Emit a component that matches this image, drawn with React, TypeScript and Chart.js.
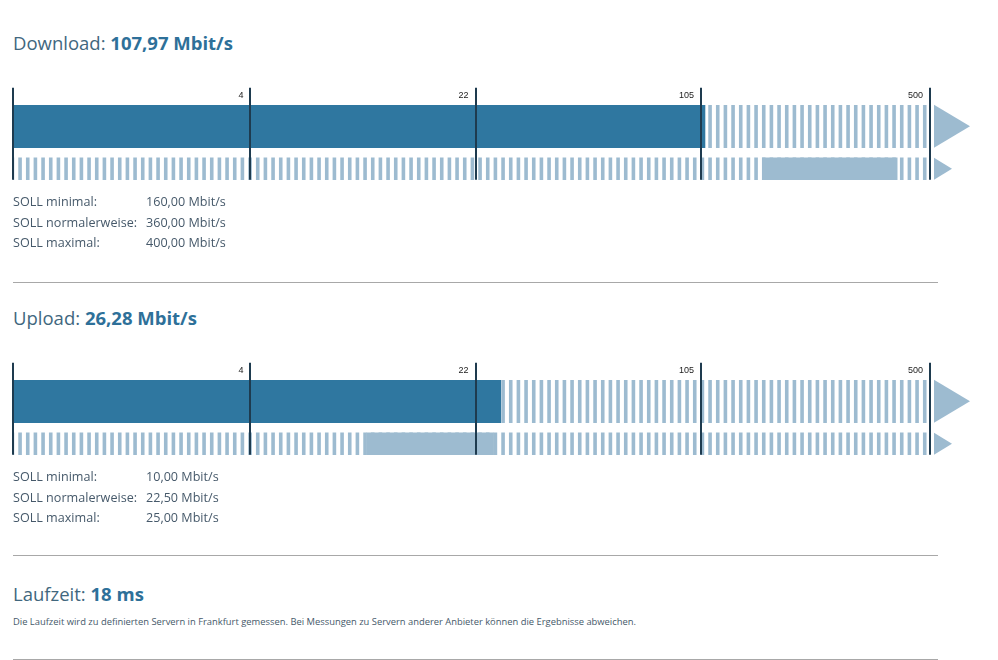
import React, { useEffect, useRef } from 'react';
import { Chart, registerables, LinearScale } from 'chart.js';

Chart.register(...registerables);

// ---------- data ----------
const SCALE_MAX = 500;
const TICK_VALUES = [4, 22, 105, 500];
const TICK_LABELS = ['4', '22', '105', '500'];
const ROWS = ['Messung', 'SOLL'];
const SOLL_LABELS = ['SOLL minimal:', 'SOLL normalerweise:', 'SOLL maximal:'];

const DOWNLOAD_MEASURED = 107.97;
const DOWNLOAD_SOLL = [160, 360, 400]; // minimal, normalerweise, maximal
const UPLOAD_MEASURED = 26.28;
const UPLOAD_SOLL = [10, 22.5, 25];
const LATENCY_MS = 18;
const LATENCY_NOTE =
  'Die Laufzeit wird zu definierten Servern in Frankfurt gemessen. Bei Messungen zu Servern anderer Anbieter können die Ergebnisse abweichen.';

// ---------- styles ----------
const DARK = '#2f77a0';
const LIGHT = '#9dbbd0';
const TICK_LINE = '#1e3b4f';
const FONT = "'Open Sans', sans-serif";

const fmt = (v: number) => v.toFixed(2).replace('.', ',');

// log(1+x) scale, as used by the gauge
class Log1pScale extends LinearScale {
  static id = 'log1p';
  static defaults = {};
  determineDataLimits() {
    this.min = 0;
    this.max = (this.options as any).max ?? SCALE_MAX;
  }
  buildTicks() {
    return [0, ...TICK_VALUES].map((value) => ({ value }));
  }
  getPixelForValue(value: any) {
    if (value === null || value === undefined || isNaN(value)) return NaN;
    const d = Math.log1p(Math.max(0, value)) / Math.log1p(this.max);
    return this.getPixelForDecimal(d);
  }
  getValueForPixel(pixel: number) {
    return Math.expm1(this.getDecimalForPixel(pixel) * Math.log1p(this.max));
  }
}
Chart.register(Log1pScale as any);

function makeStripePattern(color: string) {
  const c = document.createElement('canvas');
  c.width = 23;
  c.height = 4;
  const ctx = c.getContext('2d')!;
  ctx.fillStyle = color;
  const period = 23 / 3;
  for (let k = 0; k < 3; k++) ctx.fillRect(2.6 + k * period, 0, 3.6, 4);
  return ctx.createPattern(c, 'repeat');
}

const gaugePlugin = {
  id: 'gaugeOverlay',
  afterDatasetsDraw(chart: any) {
    const { ctx, chartArea } = chart;
    const x = chart.scales.x;
    const top = chart.getDatasetMeta(0).data[0];
    const bot = chart.getDatasetMeta(2).data[1];
    const t1 = top.y - top.height / 2;
    const b1 = top.y + top.height / 2;
    const t2 = bot.y - bot.height / 2;
    const b2 = bot.y + bot.height / 2;
    ctx.save();
    // tick lines
    ctx.fillStyle = TICK_LINE;
    const lineTop = t1 - 17;
    [0, ...TICK_VALUES].forEach((v) => {
      const p = x.getPixelForValue(v);
      ctx.fillRect(Math.round(p) - 1, lineTop, 2, b2 - lineTop);
    });
    // tick labels
    ctx.fillStyle = '#222';
    ctx.font = "9px 'Liberation Sans', Arial, sans-serif";
    ctx.textAlign = 'right';
    ctx.textBaseline = 'alphabetic';
    TICK_VALUES.forEach((v, i) => {
      const p = x.getPixelForValue(v);
      ctx.fillText(TICK_LABELS[i], p - 7, t1 - 7);
    });
    // arrows
    ctx.fillStyle = LIGHT;
    const r = chartArea.right;
    ctx.beginPath();
    ctx.moveTo(r + 4, t1);
    ctx.lineTo(r + 40, (t1 + b1) / 2);
    ctx.lineTo(r + 4, b1);
    ctx.closePath();
    ctx.fill();
    ctx.beginPath();
    ctx.moveTo(r + 4, t2);
    ctx.lineTo(r + 22, (t2 + b2) / 2);
    ctx.lineTo(r + 4, b2);
    ctx.closePath();
    ctx.fill();
    ctx.restore();
  },
};

function Gauge({ measured, soll, top }: { measured: number; soll: number[]; top: number }) {
  const ref = useRef<HTMLCanvasElement>(null);
  useEffect(() => {
    const stripes = makeStripePattern(LIGHT);
    const chart = new Chart(ref.current!, {
      type: 'bar',
      data: {
        labels: ROWS,
        datasets: [
          { data: [SCALE_MAX, null], backgroundColor: stripes as any, barThickness: 43, order: 2 },
          { data: [measured, null], backgroundColor: DARK, barThickness: 43, order: 1 },
          { data: [null, SCALE_MAX], backgroundColor: stripes as any, barThickness: 22, order: 2 },
          { data: [null, [soll[0], soll[2]]] as any, backgroundColor: LIGHT, barThickness: 22, order: 1 },
        ],
      },
      options: {
        indexAxis: 'y',
        responsive: false,
        animation: false,
        layout: { padding: { left: 5, right: 58, top: 27, bottom: 8 } },
        datasets: { bar: { grouped: false, borderWidth: 0 } } as any,
        scales: {
          x: { type: 'log1p' as any, display: false, min: 0, max: SCALE_MAX },
          y: { type: 'category', display: false },
        },
        plugins: { legend: { display: false }, tooltip: { enabled: false } },
      },
      plugins: [gaugePlugin],
    });
    return () => chart.destroy();
  }, [measured, soll]);
  return (
    <canvas
      ref={ref}
      width={980}
      height={120}
      style={{ position: 'absolute', left: 0, top, width: 980, height: 120 }}
    />
  );
}

function Title({ label, value, top }: { label: string; value: string; top: number }) {
  return (
    <div
      style={{
        position: 'absolute',
        left: 5,
        top,
        fontFamily: FONT,
        fontSize: 18.5,
        lineHeight: '20px',
        color: '#41677e',
        whiteSpace: 'nowrap',
      }}
    >
      {label} <b style={{ color: '#2e7099', fontWeight: 700 }}>{value}</b>
    </div>
  );
}

function SollList({ soll, top }: { soll: number[]; top: number }) {
  return (
    <div style={{ position: 'absolute', left: 5, top, fontFamily: FONT, fontSize: 12.6, lineHeight: '20.5px', color: '#46596a' }}>
      {SOLL_LABELS.map((l, i) => (
        <div key={l} style={{ display: 'flex', whiteSpace: 'nowrap' }}>
          <span style={{ width: 133, display: 'inline-block' }}>{l}</span>
          <span>{fmt(soll[i])} Mbit/s</span>
        </div>
      ))}
    </div>
  );
}

function Rule({ top }: { top: number }) {
  return <div style={{ position: 'absolute', left: 5, top, width: 925, height: 1, background: '#a8a8a8' }} />;
}

export default function App() {
  return (
    <div style={{ position: 'relative', width: 982, height: 652 }}>
      <Title label="Download:" value={`${fmt(DOWNLOAD_MEASURED)} Mbit/s`} top={25} />
      <Gauge measured={DOWNLOAD_MEASURED} soll={DOWNLOAD_SOLL} top={70} />
      <SollList soll={DOWNLOAD_SOLL} top={184} />
      <Rule top={274} />
      <Title label="Upload:" value={`${fmt(UPLOAD_MEASURED)} Mbit/s`} top={300} />
      <Gauge measured={UPLOAD_MEASURED} soll={UPLOAD_SOLL} top={345} />
      <SollList soll={UPLOAD_SOLL} top={459} />
      <Rule top={547} />
      <Title label="Laufzeit:" value={`${LATENCY_MS} ms`} top={576} />
      <div
        style={{
          position: 'absolute',
          left: 5,
          top: 608.3,
          fontFamily: FONT,
          fontSize: 9.4,
          lineHeight: '12px',
          color: '#46596a',
          whiteSpace: 'nowrap',
        }}
      >
        {LATENCY_NOTE}
      </div>
      <Rule top={650.5} />
    </div>
  );
}
